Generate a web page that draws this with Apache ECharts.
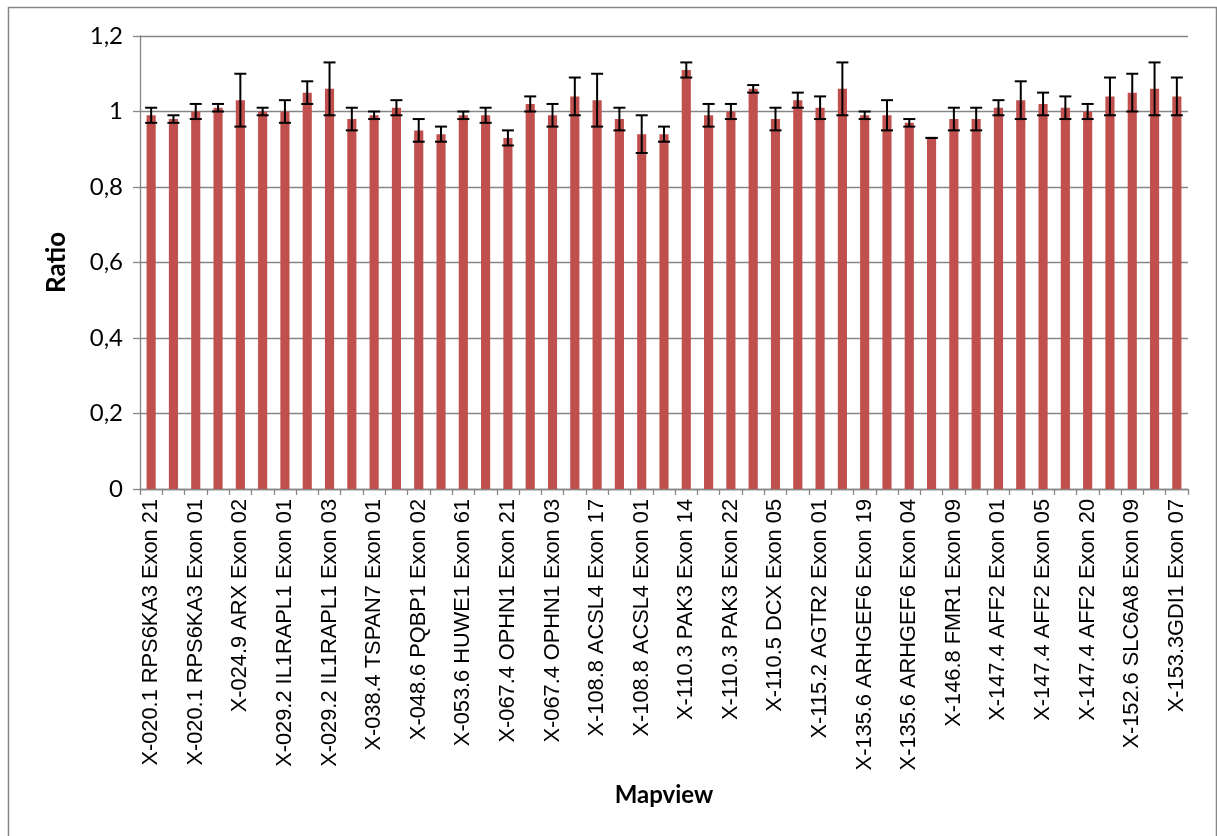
<!DOCTYPE html>
<html>
<head>
<meta charset="utf-8">
<script src="https://cdn.jsdelivr.net/npm/echarts@6/dist/echarts.min.js"></script>
<style>
html,body{margin:0;padding:0;background:#fff;}
#chart{width:1217px;height:836px;}
</style>
</head>
<body>
<div id="chart"></div>
<script>
const categories = [
  "X-020.1 RPS6KA3 Exon 21", "X-020.1 RPS6KA3 Exon 12",
  "X-020.1 RPS6KA3 Exon 01", "X-024.9 ARX Exon 05",
  "X-024.9 ARX Exon 02", "X-029.2 IL1RAPL1 Exon 11",
  "X-029.2 IL1RAPL1 Exon 01", "X-029.2 IL1RAPL1 Exon 02",
  "X-029.2 IL1RAPL1 Exon 03", "X-038.4 TSPAN7 Exon 06",
  "X-038.4 TSPAN7 Exon 01", "X-048.6 PQBP1 Exon 05",
  "X-048.6 PQBP1 Exon 02", "X-053.6 HUWE1 Exon 83",
  "X-053.6 HUWE1 Exon 61", "X-053.6 HUWE1 Exon 01",
  "X-067.4 OPHN1 Exon 21", "X-067.4 OPHN1 Exon 14",
  "X-067.4 OPHN1 Exon 03", "X-108.8 ACSL4 Exon 12",
  "X-108.8 ACSL4 Exon 17", "X-108.8 ACSL4 Exon 10",
  "X-108.8 ACSL4 Exon 01", "X-110.3 PAK3 Exon 02",
  "X-110.3 PAK3 Exon 14", "X-110.3 PAK3 Exon 18",
  "X-110.3 PAK3 Exon 22", "X-110.5 DCX Exon 01",
  "X-110.5 DCX Exon 05", "X-110.5 DCX Exon 07",
  "X-115.2 AGTR2 Exon 01", "X-115.2 AGTR2 Exon 03",
  "X-135.6 ARHGEF6 Exon 19", "X-135.6 ARHGEF6 Exon 10",
  "X-135.6 ARHGEF6 Exon 04", "X-135.6 ARHGEF6 Exon 01",
  "X-146.8 FMR1 Exon 09", "X-146.8 FMR1 Exon 01",
  "X-147.4 AFF2 Exon 01", "X-147.4 AFF2 Exon 03",
  "X-147.4 AFF2 Exon 05", "X-147.4 AFF2 Exon 11",
  "X-147.4 AFF2 Exon 20", "X-152.6 SLC6A8 Exon 01",
  "X-152.6 SLC6A8 Exon 09", "X-152.6 SLC6A8 Exon 13",
  "X-153.3GDI1 Exon 07"
];
const ratios = [
  0.99, 0.98, 1.00, 1.01, 1.03, 1.00, 1.00, 1.05, 1.06, 0.98,
  0.99, 1.01, 0.95, 0.94, 0.99, 0.99, 0.93, 1.02, 0.99, 1.04,
  1.03, 0.98, 0.94, 0.94, 1.11, 0.99, 1.00, 1.06, 0.98, 1.03,
  1.01, 1.06, 0.99, 0.99, 0.97, 0.93, 0.98, 0.98, 1.01, 1.03,
  1.02, 1.01, 1.00, 1.04, 1.05, 1.06, 1.04
];
const errors = [
  0.02, 0.01, 0.02, 0.01, 0.07, 0.01, 0.03, 0.03, 0.07, 0.03,
  0.01, 0.02, 0.03, 0.02, 0.01, 0.02, 0.02, 0.02, 0.03, 0.05,
  0.07, 0.03, 0.05, 0.02, 0.02, 0.03, 0.02, 0.01, 0.03, 0.02,
  0.03, 0.07, 0.01, 0.04, 0.01, 0.00, 0.03, 0.03, 0.02, 0.05,
  0.03, 0.03, 0.02, 0.05, 0.05, 0.07, 0.05
];
const yTicks = { min: 0, max: 1.2, interval: 0.2 };
const xTitle = "Mapview";
const yTitle = "Ratio";

const errorData = ratios.map((v, i) => [i, v - errors[i], v + errors[i]]);

const chart = echarts.init(document.getElementById('chart'), null, { renderer: 'canvas' });
const gridColor = '#868686';

chart.setOption({
  animation: false,
  backgroundColor: '#ffffff',
  graphic: [{
    type: 'rect',
    shape: { x: 8.5, y: 7.5, width: 1208, height: 840 },
    style: { fill: 'none', stroke: gridColor, lineWidth: 1.5 },
    silent: true, z: -10
  }],
  grid: { left: 140, top: 36, right: 29, bottom: 347, containLabel: false },
  xAxis: {
    type: 'category',
    data: categories,
    boundaryGap: true,
    name: xTitle,
    nameLocation: 'middle',
    nameGap: 294,
    nameTextStyle: { fontFamily: 'Lato', fontWeight: 'bold', fontSize: 24, color: '#000' },
    axisLine: { show: true, lineStyle: { color: gridColor, width: 1.3 } },
    axisTick: { show: true, alignWithLabel: false, interval: 0, length: 6, lineStyle: { color: gridColor, width: 1.3 } },
    axisLabel: {
      interval: 1, rotate: 90, margin: 10,
      fontFamily: 'Liberation Sans', fontSize: 21.8, color: '#000'
    },
    splitLine: { show: false }
  },
  yAxis: {
    type: 'value',
    min: yTicks.min, max: yTicks.max, interval: yTicks.interval,
    name: yTitle,
    nameLocation: 'middle',
    nameGap: 70,
    nameRotate: 90,
    nameTextStyle: { fontFamily: 'Lato', fontWeight: 'bold', fontSize: 26, color: '#000' },
    axisLine: { show: true, lineStyle: { color: gridColor, width: 1.3 } },
    axisTick: { show: true, length: 7, lineStyle: { color: gridColor, width: 1.3 } },
    axisLabel: {
      margin: 17, fontFamily: 'Lato', fontSize: 24, color: '#000',
      formatter: v => String(Math.round(v * 10) / 10).replace('.', ',')
    },
    splitLine: { show: true, lineStyle: { color: gridColor, width: 1.3 } }
  },
  series: [
    {
      type: 'bar',
      data: ratios,
      barWidth: '41%',
      itemStyle: { color: '#C0504D' },
      z: 2
    },
    {
      type: 'custom',
      data: errorData,
      z: 5,
      renderItem: function (params, api) {
        const x = api.value(0);
        const lo = api.coord([x, api.value(1)]);
        const hi = api.coord([x, api.value(2)]);
        const hw = 6;
        const st = { stroke: '#000', lineWidth: 2 };
        return {
          type: 'group',
          children: [
            { type: 'line', shape: { x1: hi[0], y1: hi[1], x2: lo[0], y2: lo[1] }, style: st },
            { type: 'line', shape: { x1: hi[0] - hw, y1: hi[1], x2: hi[0] + hw, y2: hi[1] }, style: st },
            { type: 'line', shape: { x1: lo[0] - hw, y1: lo[1], x2: lo[0] + hw, y2: lo[1] }, style: st }
          ]
        };
      }
    }
  ]
});
</script>
</body>
</html>
